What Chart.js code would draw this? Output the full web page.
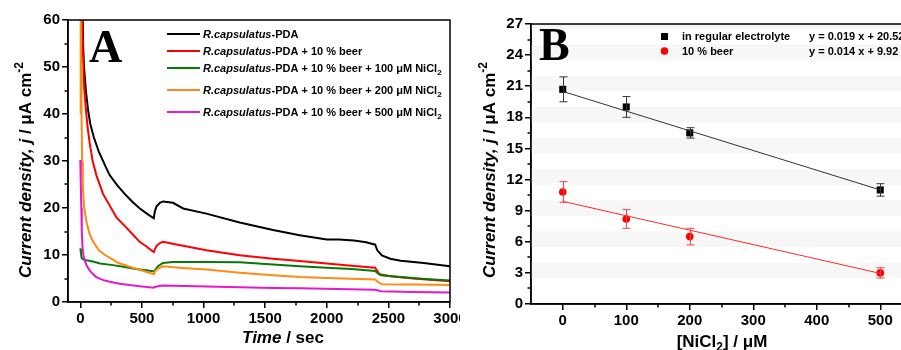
<!DOCTYPE html>
<html><head><meta charset="utf-8">
<script src="https://cdn.jsdelivr.net/npm/chart.js@4/dist/chart.umd.min.js"></script>
<style>
html,body{margin:0;padding:0;background:#fff;overflow:hidden;width:901px;height:350px;}
#wa{position:absolute;left:0;top:0;width:460px;height:350px;overflow:hidden;}
#wb{position:absolute;left:460px;top:0;width:441px;height:350px;overflow:hidden;}
canvas{position:absolute;left:0;top:0;}
</style></head><body>
<div id="wa"><canvas id="ca" width="480" height="350"></canvas></div>
<div id="wb"><canvas id="cb" width="480" height="350"></canvas></div>
<script>
// ---------- Panel A data (time / s, current density / µA cm-2) ----------
const tBlack = [18, 22, 30, 45, 62, 80, 110, 150, 211, 238, 300, 360, 420, 483, 540, 596, 604, 618, 645, 672, 752, 835, 1023, 1293, 1564, 1780, 2000, 2100, 2220, 2320, 2393, 2410, 2447, 2515, 2600, 2786, 3000];
const jBlack = [63, 55, 50, 45, 41, 38, 35, 32, 28.5, 27, 24.8, 23, 21.4, 19.9, 18.8, 17.8, 19.2, 20.3, 21.1, 21.4, 21.1, 19.9, 18.8, 16.9, 15.3, 14.2, 13.3, 13.3, 13.1, 12.7, 12.2, 11.0, 9.9, 9.2, 8.8, 8.3, 7.6];

const tRed = [12, 16, 22, 30, 45, 60, 75, 100, 130, 184, 265, 293, 360, 428, 482, 537, 596, 605, 620, 650, 672, 750, 1023, 1293, 1564, 1780, 2000, 2200, 2393, 2410, 2430, 2515, 2700, 3000];
const jRed = [63, 58, 52, 46, 41, 37, 34, 30, 27, 23, 19.3, 18, 16.2, 14.3, 12.8, 11.8, 10.6, 11.2, 12.0, 12.6, 12.8, 12.4, 11.0, 9.95, 9.2, 8.7, 8.2, 7.7, 7.3, 6.6, 5.9, 5.5, 5.0, 4.4];

const tGreen = [0, 5, 10, 20, 50, 100, 160, 250, 350, 450, 550, 597, 610, 630, 671, 750, 1023, 1293, 1564, 1780, 2000, 2200, 2393, 2415, 2440, 2600, 2800, 3000];
const jGreen = [11.4, 10.5, 9.4, 9.1, 8.9, 8.6, 8.2, 7.9, 7.5, 7.0, 6.7, 6.5, 6.9, 7.6, 8.3, 8.5, 8.5, 8.45, 8.0, 7.6, 7.3, 7.0, 6.6, 6.1, 5.7, 5.3, 4.9, 4.6];

const tOrange = [0, 3, 6, 10, 15, 20, 30, 50, 75, 100, 150, 200, 265, 300, 400, 500, 597, 605, 630, 671, 800, 1023, 1293, 1564, 1780, 2000, 2393, 2420, 2447, 2700, 3000];
const jOrange = [40, 63, 52, 40, 30, 25, 20.5, 17, 14.5, 13, 11, 10, 9.0, 8.4, 7.5, 6.7, 5.9, 6.5, 7.1, 7.6, 7.3, 6.9, 6.2, 5.7, 5.3, 5.1, 4.8, 4.2, 3.8, 3.7, 3.6];

const tMagenta = [0, 3, 8, 12, 18, 25, 35, 50, 76, 100, 130, 180, 240, 320, 400, 500, 595, 605, 640, 671, 1023, 1564, 1780, 2393, 2440, 2700, 3000];
const jMagenta = [30.2, 26, 20, 15, 11.5, 10, 8.9, 7.8, 6.7, 6.0, 5.3, 4.7, 4.3, 3.9, 3.6, 3.3, 3.05, 3.2, 3.4, 3.5, 3.3, 3.0, 2.9, 2.6, 2.3, 2.15, 2.0];

const seriesNamesA = [
  ['R.capsulatus', '-PDA', ''],
  ['R.capsulatus', '-PDA + 10 % beer', ''],
  ['R.capsulatus', '-PDA + 10 % beer + 100 \u03bcM NiCl', '2'],
  ['R.capsulatus', '-PDA + 10 % beer + 200 \u03bcM NiCl', '2'],
  ['R.capsulatus', '-PDA + 10 % beer + 500 \u03bcM NiCl', '2']
];
const timeTicks = [0, 500, 1000, 1500, 2000, 2500, 3000];
const timeMinor = [250, 750, 1250, 1750, 2250, 2750];
const jTicksA = [0, 10, 20, 30, 40, 50, 60];
const jMinorA = [5, 15, 25, 35, 45, 55];

// ---------- Panel B data ----------
const nicl = [0, 100, 200, 500];
const jRegular = [20.7, 19.0, 16.5, 11.0];
const errRegular = [1.2, 1.0, 0.5, 0.6];
const jBeer = [10.8, 8.2, 6.5, 3.0];
const errBeer = [1.0, 0.9, 0.8, 0.5];
const fitX = [0, 500];
const fitRegular = [20.5, 11.0];
const fitBeer = [9.9, 2.95];
const seriesNamesB = ['in regular electrolyte', '10 % beer'];
const equationsB = ['y = 0.019 x + 20.52', 'y = 0.014 x + 9.92'];
const niclTicks = [0, 100, 200, 300, 400, 500];
const niclMinor = [50, 150, 250, 350, 450];
const jTicksB = [0, 3, 6, 9, 12, 15, 18, 21, 24, 27];
const jMinorB = [1.5, 4.5, 7.5, 10.5, 13.5, 16.5, 19.5, 22.5, 25.5];

// ---------- helpers ----------
const FAM = "'Liberation Sans', Arial, sans-serif";
const SERIF = "'Liberation Serif', 'Times New Roman', serif";
function runs(ctx, x, y, parts, measureOnly) {
  let cx = x;
  for (const p of parts) {
    ctx.font = p.f;
    if (!measureOnly) ctx.fillText(p.t, cx, y + (p.dy || 0));
    cx += ctx.measureText(p.t).width;
  }
  return cx - x;
}
function pts(xs, ys) { return xs.map((x, i) => ({x: x, y: ys[i]})); }
function axisCommon(extra) {
  return Object.assign({
    type: 'linear',
    ticks: {font: {family: FAM, weight: 'bold', size: 15}, color: '#000', autoSkip: false, maxRotation: 0, padding: 2,
            callback: v => String(v)},
    grid: {display: true, drawOnChartArea: false, drawTicks: true, tickLength: 6, color: '#000', lineWidth: 1.5},
    border: {display: true, color: '#000', width: 1.5}
  }, extra);
}
function minorTicks(chart, xs, ys) {
  const ctx = chart.ctx, a = chart.chartArea, sx = chart.scales.x, sy = chart.scales.y;
  ctx.save(); ctx.strokeStyle = '#000'; ctx.lineWidth = 1.5; ctx.beginPath();
  xs.forEach(v => { const p = Math.round(sx.getPixelForValue(v)); ctx.moveTo(p, a.bottom); ctx.lineTo(p, a.bottom + 3.5); });
  ys.forEach(v => { const p = Math.round(sy.getPixelForValue(v)); ctx.moveTo(a.left, p); ctx.lineTo(a.left - 3.5, p); });
  ctx.stroke();
  ctx.strokeRect(a.left, a.top, a.right - a.left, a.bottom - a.top);
  ctx.restore();
}
function yTitle(ctx, x, y) {
  ctx.save(); ctx.translate(x, y); ctx.rotate(-Math.PI / 2);
  ctx.fillStyle = '#000'; ctx.textBaseline = 'alphabetic'; ctx.textAlign = 'left';
  runs(ctx, 0, 0, [
    {t: 'Current density, j', f: 'italic bold 17px ' + FAM},
    {t: ' / \u03bcA cm', f: 'bold 17px ' + FAM},
    {t: '-2', f: 'bold 12px ' + FAM, dy: -8}
  ]);
  ctx.restore();
}
const colorsA = ['#000000', '#ff0000', '#087808', '#ff8a14', '#e619c8'];

// ---------- Panel A ----------
const plugA = {
  id: 'plugA',
  afterDraw(chart) {
    const ctx = chart.ctx;
    minorTicks(chart, timeMinor, jMinorA);
    ctx.save();
    ctx.fillStyle = '#000'; ctx.textAlign = 'left'; ctx.textBaseline = 'alphabetic';
    ctx.font = 'bold 46px ' + SERIF; ctx.fillText('A', 89, 62);
    const rowsY = [34, 51, 68, 90, 112];
    seriesNamesA.forEach((n, i) => {
      ctx.strokeStyle = colorsA[i]; ctx.lineWidth = 2.2;
      ctx.beginPath(); ctx.moveTo(167, rowsY[i]); ctx.lineTo(200, rowsY[i]); ctx.stroke();
      runs(ctx, 203, rowsY[i] + 4, [
        {t: n[0], f: 'italic bold 11px ' + FAM},
        {t: n[1], f: 'bold 11px ' + FAM},
        {t: n[2], f: 'bold 8px ' + FAM, dy: 3}
      ]);
    });
    const xp = [{t: 'Time', f: 'italic bold 17px ' + FAM}, {t: ' / sec', f: 'bold 17px ' + FAM}];
    const w = runs(ctx, 0, 0, xp, true);
    runs(ctx, 283 - w / 2, 343, xp);
    ctx.restore();
    yTitle(ctx, 31, 278);
  }
};
new Chart(document.getElementById('ca'), {
  type: 'scatter',
  data: {datasets: [
    {data: pts(tMagenta, jMagenta), borderColor: colorsA[4]},
    {data: pts(tOrange, jOrange), borderColor: colorsA[3]},
    {data: pts(tGreen, jGreen), borderColor: colorsA[2]},
    {data: pts(tRed, jRed), borderColor: colorsA[1]},
    {data: pts(tBlack, jBlack), borderColor: colorsA[0]}
  ].map(d => Object.assign(d, {showLine: true, pointRadius: 0, borderWidth: 2, tension: 0, fill: false}))},
  options: {
    responsive: false, animation: false, devicePixelRatio: 1,
    layout: {padding: {left: 0, top: 20, right: 30, bottom: 0}},
    plugins: {legend: {display: false}, tooltip: {enabled: false}},
    scales: {
      x: axisCommon({min: -100, max: 3000,
        afterBuildTicks: s => { s.ticks = timeTicks.map(v => ({value: v})); },
        afterFit: s => { s.height = 48; }}),
      y: axisCommon({min: 0, max: 60,
        afterBuildTicks: s => { s.ticks = jTicksA.map(v => ({value: v})); },
        afterFit: s => { s.width = 68; }})
    }
  },
  plugins: [plugA]
});

// ---------- Panel B ----------
const plugB = {
  id: 'plugB',
  beforeDatasetsDraw(chart) {
    const ctx = chart.ctx, a = chart.chartArea, sy = chart.scales.y;
    ctx.save(); ctx.fillStyle = '#f7f7f7';
    jTicksB.forEach(v => {
      if (v === 0) return;
      const y1 = Math.max(sy.getPixelForValue(v + 1.0), a.top), y2 = sy.getPixelForValue(v - 0.5);
      ctx.fillRect(a.left, y1, a.right - a.left, y2 - y1);
    });
    ctx.restore();
  },
  afterDatasetsDraw(chart) {
    const ctx = chart.ctx, sx = chart.scales.x, sy = chart.scales.y;
    ctx.save(); ctx.lineWidth = 1;
    const eb = (ys, es, col) => {
      ctx.strokeStyle = col; ctx.beginPath();
      nicl.forEach((x, i) => {
        const px = Math.round(sx.getPixelForValue(x)) + 0.5;
        const t = sy.getPixelForValue(ys[i] + es[i]), b = sy.getPixelForValue(ys[i] - es[i]);
        ctx.moveTo(px, t); ctx.lineTo(px, b);
        ctx.moveTo(px - 4, t); ctx.lineTo(px + 4, t);
        ctx.moveTo(px - 4, b); ctx.lineTo(px + 4, b);
      });
      ctx.stroke();
    };
    eb(jRegular, errRegular, '#333');
    eb(jBeer, errBeer, '#ff4040');
    ctx.restore();
  },
  afterDraw(chart) {
    const ctx = chart.ctx;
    minorTicks(chart, niclMinor, jMinorB);
    ctx.save();
    ctx.fillStyle = '#000'; ctx.textAlign = 'left'; ctx.textBaseline = 'alphabetic';
    ctx.font = 'bold 46px ' + SERIF; ctx.fillText('B', 79, 60);
    // legend
    ctx.fillStyle = '#000'; ctx.fillRect(201, 33, 7, 7);
    ctx.fillStyle = '#ff0000'; ctx.beginPath(); ctx.arc(204.5, 51, 3.8, 0, Math.PI * 2); ctx.fill();
    ctx.fillStyle = '#000'; ctx.font = 'bold 11px ' + FAM;
    ctx.fillText(seriesNamesB[0], 222, 40);
    ctx.fillText(seriesNamesB[1], 222, 55);
    ctx.fillText(equationsB[0], 349, 40);
    ctx.fillText(equationsB[1], 349, 55);
    const xp = [
      {t: '[NiCl', f: 'bold 17px ' + FAM},
      {t: '2', f: 'bold 12px ' + FAM, dy: 4},
      {t: '] / \u03bcM', f: 'bold 17px ' + FAM}
    ];
    const w = runs(ctx, 0, 0, xp, true);
    runs(ctx, 262 - w / 2, 347, xp);
    ctx.restore();
    yTitle(ctx, 35, 278);
  }
};
new Chart(document.getElementById('cb'), {
  type: 'scatter',
  data: {datasets: [
    {data: pts(fitX, fitRegular), showLine: true, borderColor: '#333', borderWidth: 1, pointRadius: 0, tension: 0},
    {data: pts(fitX, fitBeer), showLine: true, borderColor: '#ff2a2a', borderWidth: 1, pointRadius: 0, tension: 0},
    {data: pts(nicl, jRegular), showLine: false, pointStyle: 'rect', pointRadius: 5, backgroundColor: '#000', borderColor: '#000', borderWidth: 0},
    {data: pts(nicl, jBeer), showLine: false, pointStyle: 'circle', pointRadius: 3.8, backgroundColor: '#ff0000', borderColor: '#ff0000', borderWidth: 0}
  ]},
  options: {
    responsive: false, animation: false, devicePixelRatio: 1,
    layout: {padding: {left: 0, top: 24, right: 28, bottom: 0}},
    plugins: {legend: {display: false}, tooltip: {enabled: false}},
    scales: {
      x: axisCommon({min: -50, max: 550,
        afterBuildTicks: s => { s.ticks = niclTicks.map(v => ({value: v})); },
        afterFit: s => { s.height = 46; }}),
      y: axisCommon({min: 0, max: 27,
        afterBuildTicks: s => { s.ticks = jTicksB.map(v => ({value: v})); },
        afterFit: s => { s.width = 71; }})
    }
  },
  plugins: [plugB]
});
</script>
</body></html>
